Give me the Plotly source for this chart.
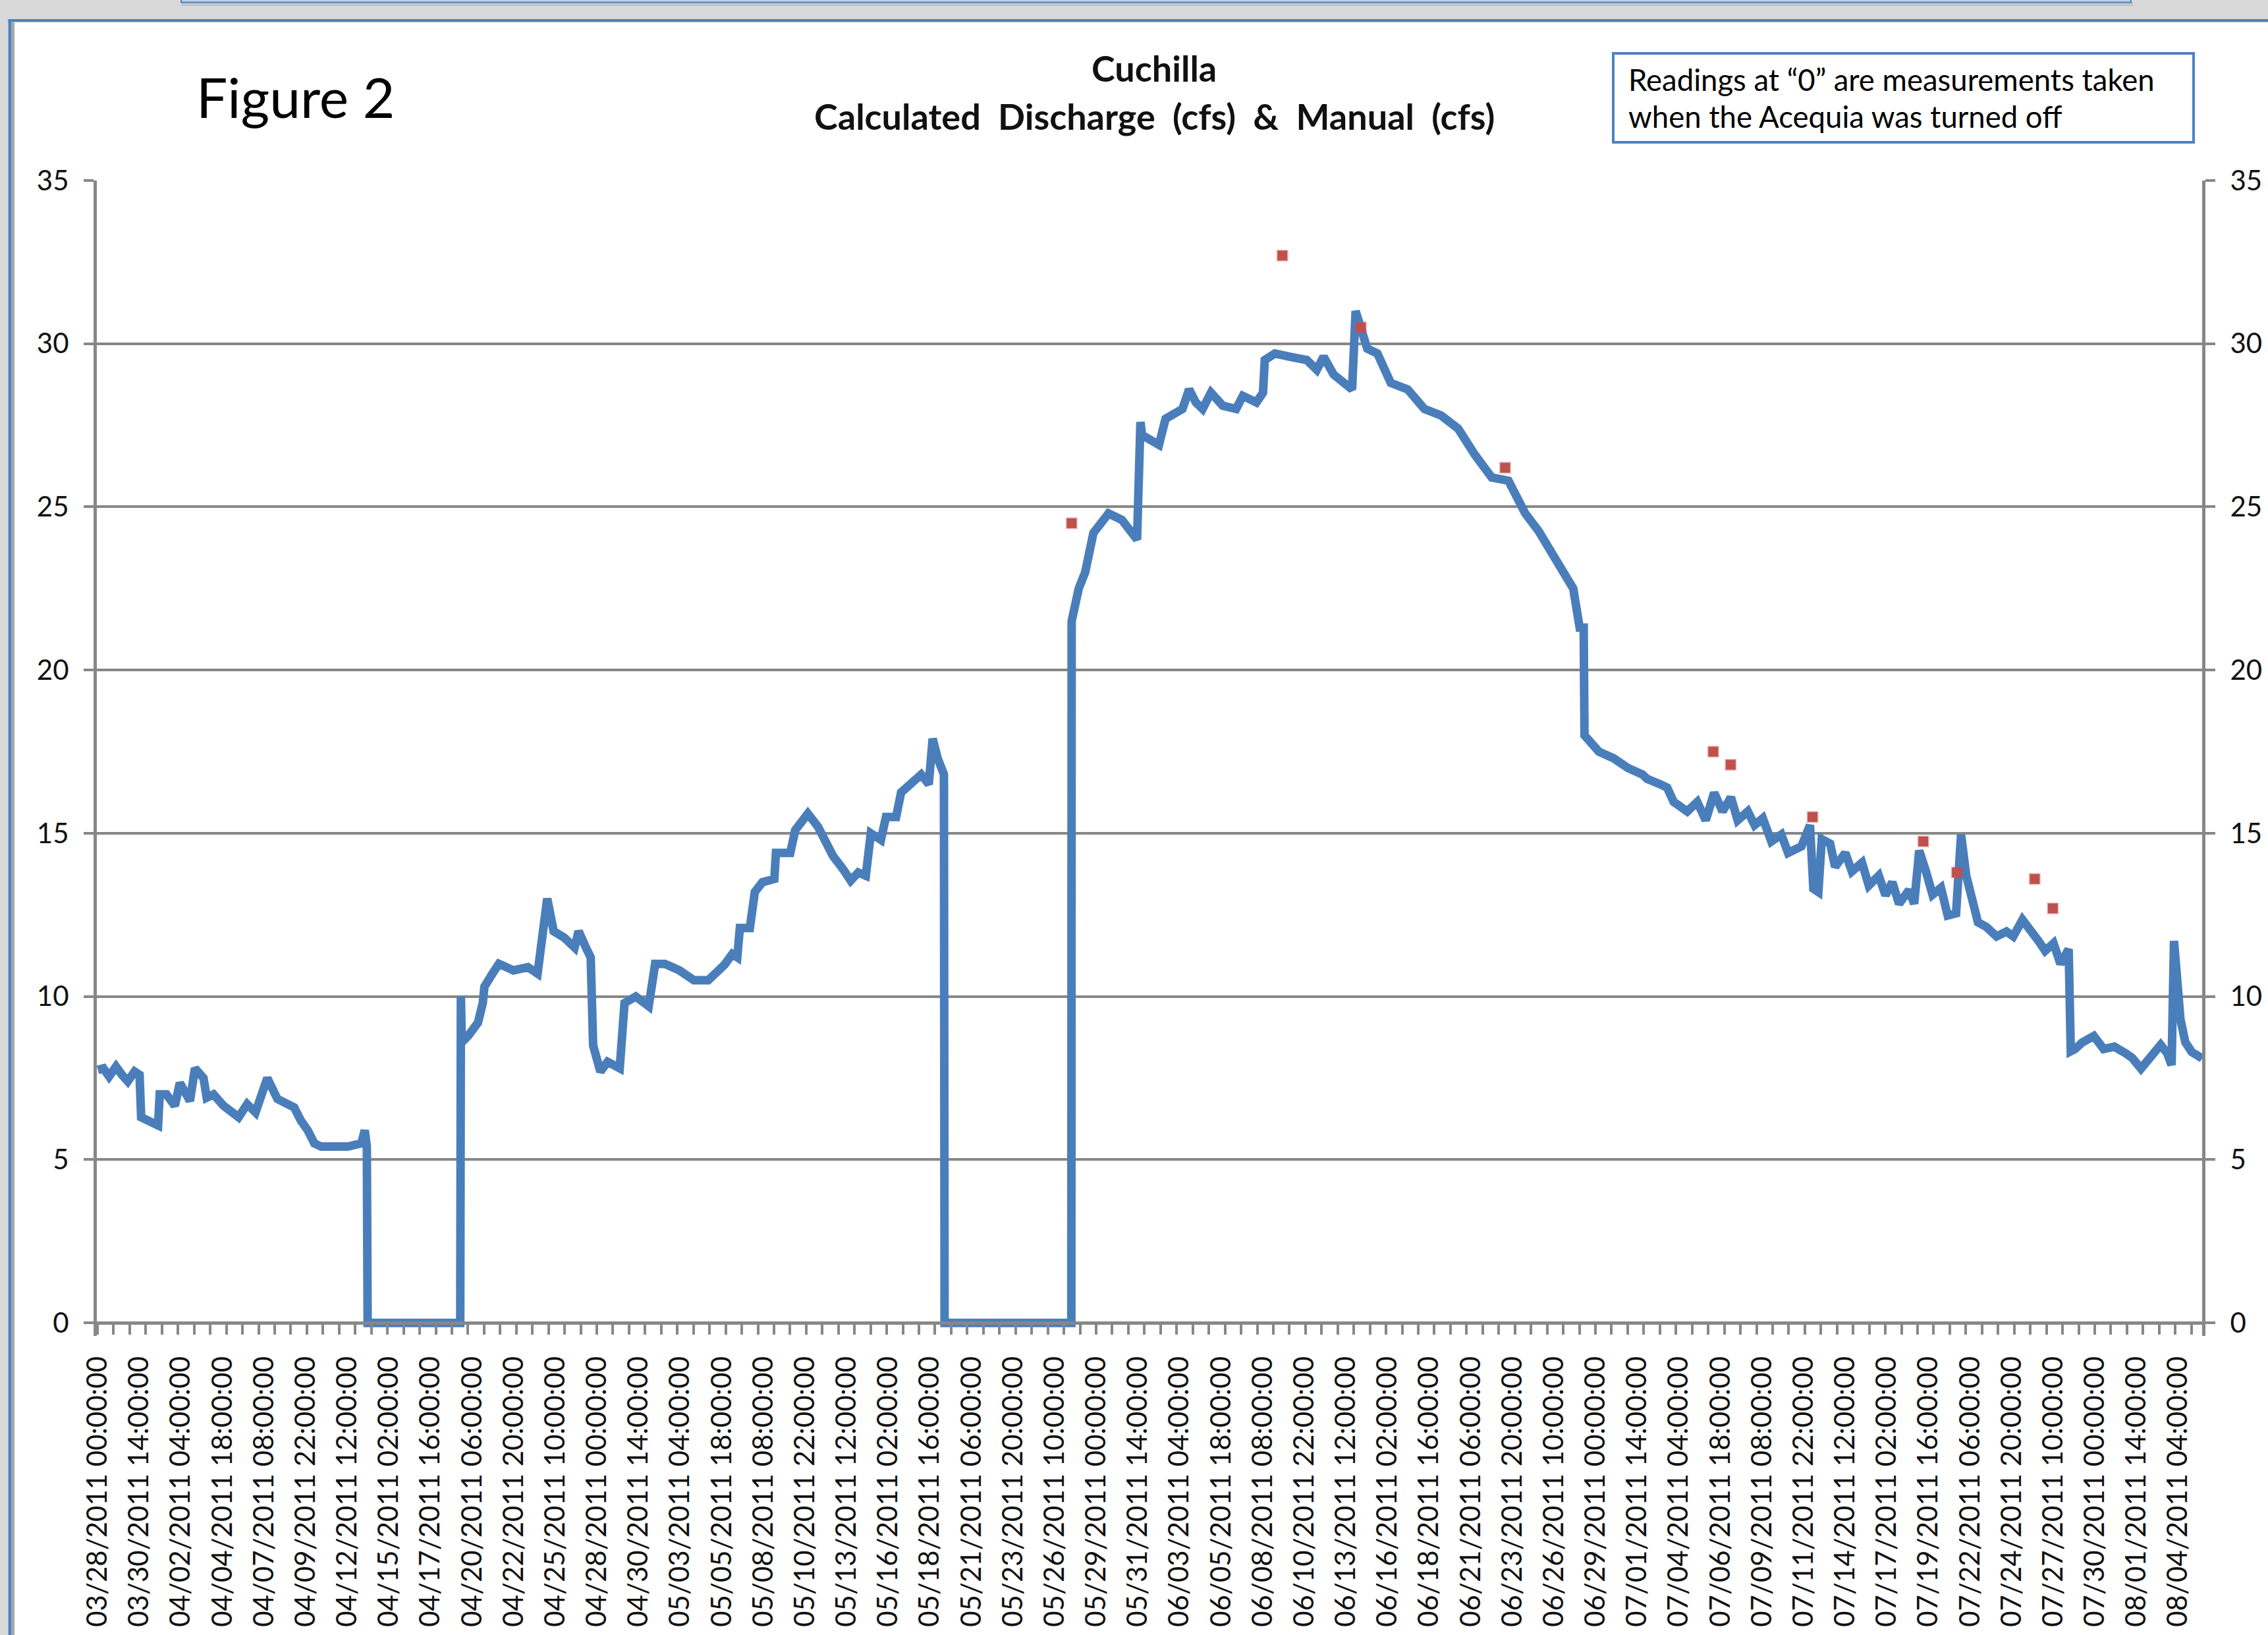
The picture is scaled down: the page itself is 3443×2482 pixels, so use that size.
import pandas as pd
import plotly.graph_objects as go

# ---------------- data ----------------
START = "2011-03-28 00:00"

# Calculated discharge (cfs); x = elapsed days since START
calc_days = [
    0.00, 0.35, 0.70, 1.13, 1.50, 1.86, 2.28, 2.59, 2.69, 3.20, 3.74, 3.84, 4.26, 4.78, 5.09,
    5.72, 6.03, 6.56, 6.76, 7.18, 7.81, 8.74, 9.27, 9.79, 10.20, 10.52, 11.15, 11.77, 12.19,
    12.60, 13.03, 13.44, 13.86, 14.70, 15.53, 16.36, 16.57, 16.70, 16.75, 22.50, 22.52, 22.54,
    22.60, 23.00, 23.60, 23.90, 24.00, 24.50, 24.90, 25.80, 26.70, 27.30, 27.90, 28.30, 28.96,
    29.60, 29.85, 30.30, 30.60, 30.75, 31.20, 31.65, 32.40, 32.70, 33.40, 34.20, 34.60, 35.20,
    36.10, 37.00, 37.90, 38.92, 39.39, 39.70, 39.86, 40.48, 40.79, 41.26, 42.00, 42.10, 42.99,
    43.30, 44.08, 44.71, 45.18, 45.65, 46.27, 46.74, 47.21, 47.68, 47.99, 48.62, 48.93, 49.56,
    49.87, 50.50, 51.12, 51.59, 51.83, 52.14, 52.53, 52.57, 60.44, 60.46, 60.90, 61.30, 61.81,
    62.75, 63.58, 64.52, 64.73, 64.83, 65.88, 66.29, 67.34, 67.75, 68.17, 68.59, 69.11, 69.84,
    70.67, 71.09, 71.93, 72.34, 72.45, 73.08, 74.02, 75.06, 75.68, 76.10, 76.73, 77.35, 77.87,
    78.09, 78.40, 78.81, 79.44, 80.27, 81.32, 82.36, 83.40, 84.45, 85.49, 86.54, 87.58, 88.62,
    89.45, 90.00, 90.90, 91.60, 92.00, 92.25, 92.30, 93.20, 94.10, 95.00, 95.90, 96.18, 97.01,
    97.43, 97.84, 98.68, 99.30, 99.83, 100.35, 100.87, 101.39, 101.81, 102.44, 102.86, 103.37,
    103.90, 104.52, 104.94, 105.77, 106.30, 106.51, 106.82, 107.03, 107.55, 107.86, 108.49,
    108.90, 109.53, 109.95, 110.57, 110.99, 111.41, 111.83, 112.45, 112.77, 113.08, 113.50,
    113.91, 114.43, 114.85, 115.37, 115.68, 116.00, 116.31, 116.73, 117.25, 117.88, 118.50,
    118.92, 119.49, 119.96, 120.49, 120.90, 121.42, 121.85, 122.36, 122.49, 122.76, 123.20,
    123.92, 124.53, 125.20, 125.90, 126.30, 126.85, 127.40, 128.07, 128.48, 128.75, 128.90,
    129.10, 129.30, 129.60, 130.00, 130.65,
]
calc_cfs = [
    7.75, 7.80, 7.55, 7.85, 7.60, 7.40, 7.70, 7.60, 6.30, 6.20, 6.05, 7.00, 7.00, 6.65, 7.35,
    6.80, 7.80, 7.50, 6.90, 7.00, 6.65, 6.30, 6.70, 6.45, 7.07, 7.50, 6.86, 6.70, 6.60,
    6.20, 5.90, 5.50, 5.40, 5.40, 5.40, 5.50, 5.90, 5.40, 0.00, 0.00, 2.90, 10.00,
    8.60, 8.80, 9.20, 9.80, 10.30, 10.70, 11.00, 10.80, 10.90, 10.70, 13.00, 12.00, 11.80,
    11.50, 12.00, 11.50, 11.20, 8.50, 7.70, 8.00, 7.80, 9.80, 10.00, 9.70, 11.00, 11.00,
    10.80, 10.50, 10.50, 10.98, 11.30, 11.20, 12.10, 12.10, 13.20, 13.50, 13.60, 14.40, 14.40,
    15.10, 15.60, 15.20, 14.70, 14.30, 13.90, 13.55, 13.80, 13.70, 15.00, 14.80, 15.50, 15.50,
    16.25, 16.50, 16.80, 16.50, 17.90, 17.30, 16.80, 0.00, 0.00, 21.50, 22.50, 23.00, 24.20,
    24.80, 24.60, 24.00, 27.60, 27.20, 26.90, 27.70, 28.00, 28.60, 28.20, 28.00, 28.50, 28.10,
    28.00, 28.40, 28.20, 28.50, 29.50, 29.70, 29.60, 29.50, 29.20, 29.60, 29.05, 28.80, 28.60,
    31.00, 30.40, 29.85, 29.70, 28.80, 28.60, 28.00, 27.80, 27.40, 26.60, 25.90, 25.80, 24.80,
    24.26, 23.80, 23.00, 22.50, 21.30, 21.30, 18.00, 17.50, 17.30, 17.00, 16.80, 16.67, 16.50,
    16.40, 15.96, 15.67, 15.96, 15.40, 16.24, 15.67, 16.10, 15.40, 15.67, 15.25, 15.46,
    14.75, 14.96, 14.40, 14.60, 15.25, 13.30, 13.20, 14.82, 14.68, 13.97, 14.40,
    13.83, 14.10, 13.40, 13.70, 13.10, 13.50, 12.84, 13.26, 12.84, 14.47, 13.83,
    13.12, 13.33, 12.48, 12.55, 14.96, 13.70, 12.98, 12.27, 12.13, 11.84, 11.99,
    11.84, 12.35, 11.99, 11.70, 11.40, 11.63, 11.00, 11.45, 8.32, 8.39, 8.59,
    8.79, 8.39, 8.46, 8.26, 8.12, 7.79, 8.12, 8.52, 8.26, 7.90, 11.70,
    10.50, 9.30, 8.60, 8.30, 8.10,
]

# Manual measurements (cfs)
manual_times = [
    "2011-05-27 11:00", "2011-06-09 13:00", "2011-06-14 10:00", "2011-06-23 09:00",
    "2011-07-06 07:00", "2011-07-07 09:00", "2011-07-12 11:00", "2011-07-19 08:00",
    "2011-07-21 10:00", "2011-07-26 06:00", "2011-07-27 09:00",
]
manual_cfs = [24.5, 32.7, 30.5, 26.2, 17.5, 17.1, 15.5, 14.75, 13.8, 13.6, 12.7]

x_tick_labels = [
    "03/28/2011 00:00:00", "03/30/2011 14:00:00", "04/02/2011 04:00:00", "04/04/2011 18:00:00",
    "04/07/2011 08:00:00", "04/09/2011 22:00:00", "04/12/2011 12:00:00", "04/15/2011 02:00:00",
    "04/17/2011 16:00:00", "04/20/2011 06:00:00", "04/22/2011 20:00:00", "04/25/2011 10:00:00",
    "04/28/2011 00:00:00", "04/30/2011 14:00:00", "05/03/2011 04:00:00", "05/05/2011 18:00:00",
    "05/08/2011 08:00:00", "05/10/2011 22:00:00", "05/13/2011 12:00:00", "05/16/2011 02:00:00",
    "05/18/2011 16:00:00", "05/21/2011 06:00:00", "05/23/2011 20:00:00", "05/26/2011 10:00:00",
    "05/29/2011 00:00:00", "05/31/2011 14:00:00", "06/03/2011 04:00:00", "06/05/2011 18:00:00",
    "06/08/2011 08:00:00", "06/10/2011 22:00:00", "06/13/2011 12:00:00", "06/16/2011 02:00:00",
    "06/18/2011 16:00:00", "06/21/2011 06:00:00", "06/23/2011 20:00:00", "06/26/2011 10:00:00",
    "06/29/2011 00:00:00", "07/01/2011 14:00:00", "07/04/2011 04:00:00", "07/06/2011 18:00:00",
    "07/09/2011 08:00:00", "07/11/2011 22:00:00", "07/14/2011 12:00:00", "07/17/2011 02:00:00",
    "07/19/2011 16:00:00", "07/22/2011 06:00:00", "07/24/2011 20:00:00", "07/27/2011 10:00:00",
    "07/30/2011 00:00:00", "08/01/2011 14:00:00", "08/04/2011 04:00:00",
]
y_ticks = [0, 5, 10, 15, 20, 25, 30, 35]

# ---------------- styling ----------------
BLUE = "#4a7ebb"
RED = "#c0504d"
GRAY = "#878787"
FRAME_BLUE = "#4f81bd"
TXT = "#111111"

W, H = 3443, 2482
PL, PR, PT, PB = 147, 3343, 274, 2028   # plot area in page pixels
Y_MIN = -0.4                             # little room below 0 so the zero band is not clipped


def px2x(px):
    return (px - PL) / (PR - PL)


def py2y(py):
    return (PB - py) / (PB - PT)


x_calc = pd.Timestamp(START) + pd.to_timedelta(calc_days, unit="D")
x_manual = pd.to_datetime(manual_times)
tickvals = pd.to_datetime(x_tick_labels, format="%m/%d/%Y %H:%M:%S")

fig = go.Figure()
fig.add_trace(go.Scatter(
    x=x_calc, y=calc_cfs, mode="lines", name="Calculated Discharge (cfs)",
    line=dict(color=BLUE, width=13), hoverinfo="x+y",
))
fig.add_trace(go.Scatter(
    x=x_manual, y=manual_cfs, mode="markers", name="Manual (cfs)",
    marker=dict(symbol="square", size=15, color=RED,
                line=dict(color="rgba(192,80,77,0.35)", width=3)),
    cliponaxis=False,
))
# companion trace so the right-hand axis is drawn
fig.add_trace(go.Scatter(
    x=[x_calc[0]], y=[0], yaxis="y2", mode="markers",
    marker=dict(opacity=0), showlegend=False, hoverinfo="skip",
))

zero_pos = (0 - Y_MIN) / (35 - Y_MIN)
tickfont = dict(family="Lato, sans-serif", size=42, color=TXT)

fig.update_layout(
    template="none",
    width=W, height=H, autosize=False,
    margin=dict(l=PL, r=W - PR, t=PT, b=H - PB, pad=0),
    paper_bgcolor="white", plot_bgcolor="white",
    showlegend=False,
    font=dict(family="Lato, sans-serif", color=TXT),
    xaxis=dict(
        type="date", range=["2011-03-27 22:30", "2011-08-05 15:30"],
        anchor="free", position=zero_pos, automargin=False,
        tickmode="array", tickvals=tickvals, ticktext=x_tick_labels, tickangle=-90,
        ticks="outside", ticklen=15, tickwidth=4, tickcolor="rgba(0,0,0,0)",
        tickfont=tickfont, ticklabelstandoff=16,
        minor=dict(ticks="outside", ticklen=15, tickwidth=4, tickcolor=GRAY,
                   dtick=86400000, tick0="2011-03-27 23:30", showgrid=False),
        showline=True, linecolor=GRAY, linewidth=5, showgrid=False, zeroline=False,
    ),
    yaxis=dict(
        range=[Y_MIN, 35], tickmode="array", tickvals=y_ticks, automargin=False,
        ticks="outside", ticklen=15, tickwidth=4, tickcolor=GRAY,
        showline=True, linecolor=GRAY, linewidth=5,
        showgrid=True, gridcolor=GRAY, gridwidth=4, zeroline=False,
        tickfont=tickfont, ticklabelstandoff=14,
    ),
    yaxis2=dict(
        overlaying="y", side="right", anchor="x", automargin=False,
        range=[Y_MIN, 35], tickmode="array", tickvals=y_ticks,
        ticks="outside", ticklen=15, tickwidth=4, tickcolor=GRAY,
        showline=True, linecolor=GRAY, linewidth=5,
        showgrid=False, zeroline=False,
        tickfont=tickfont, ticklabelstandoff=14,
    ),
)


def rect(x0, y0, x1, y1, fill, line_color=None, line_width=0):
    return dict(type="rect", xref="paper", yref="paper", layer="above",
                x0=px2x(x0), x1=px2x(x1), y0=py2y(y0), y1=py2y(y1),
                fillcolor=fill,
                line=dict(color=line_color or fill, width=line_width))


shapes = [
    # window frame around the chart
    rect(0, 0, W, 29, "#d9d9d9"),
    rect(0, 0, 12.5, H, "#d9d9d9"),
    rect(275, 3.5, 3238, 9, "#c4c4c4"),
    rect(275, -5, 3235, 3.5, "#b9d1ee", FRAME_BLUE, 2),
    rect(12.5, 29, W, 33.5, FRAME_BLUE),
    rect(12.5, 29, 17.5, H, FRAME_BLUE),
    rect(17.5, 33.5, 22, H, "#a6a6a6"),
    # note box
    rect(2449, 81, 3330, 216, "white", FRAME_BLUE, 4),
]

annotations = [
    dict(text="Figure 2", x=px2x(296), y=py2y(146), xanchor="left", yanchor="middle",
         font=dict(family="Lato, sans-serif", size=84, color="black")),
    dict(text="<b>Cuchilla</b>", x=px2x(1752), y=py2y(103), xanchor="center", yanchor="middle",
         font=dict(family="Lato, sans-serif", size=54, color=TXT)),
    dict(text="<b>Calculated  Discharge  (cfs)  &  Manual  (cfs)</b>",
         x=px2x(1752), y=py2y(177), xanchor="center", yanchor="middle",
         font=dict(family="Lato, sans-serif", size=54, color=TXT)),
    dict(text="Readings at \u201c0\u201d are measurements taken", x=px2x(2470), y=py2y(121),
         xanchor="left", yanchor="middle",
         font=dict(family="Lato, sans-serif", size=45.5, color="black")),
    dict(text="when the Acequia was turned off", x=px2x(2470), y=py2y(177),
         xanchor="left", yanchor="middle",
         font=dict(family="Lato, sans-serif", size=45.5, color="black")),
]
for a in annotations:
    a.update(xref="paper", yref="paper", showarrow=False)

fig.update_layout(shapes=shapes, annotations=annotations)

fig.write_html(
    "out.html",
    config={"displayModeBar": False, "responsive": False},
    post_script="document.body.style.margin='0px';document.body.style.padding='0px';"
                "document.body.style.overflow='hidden';",
)
